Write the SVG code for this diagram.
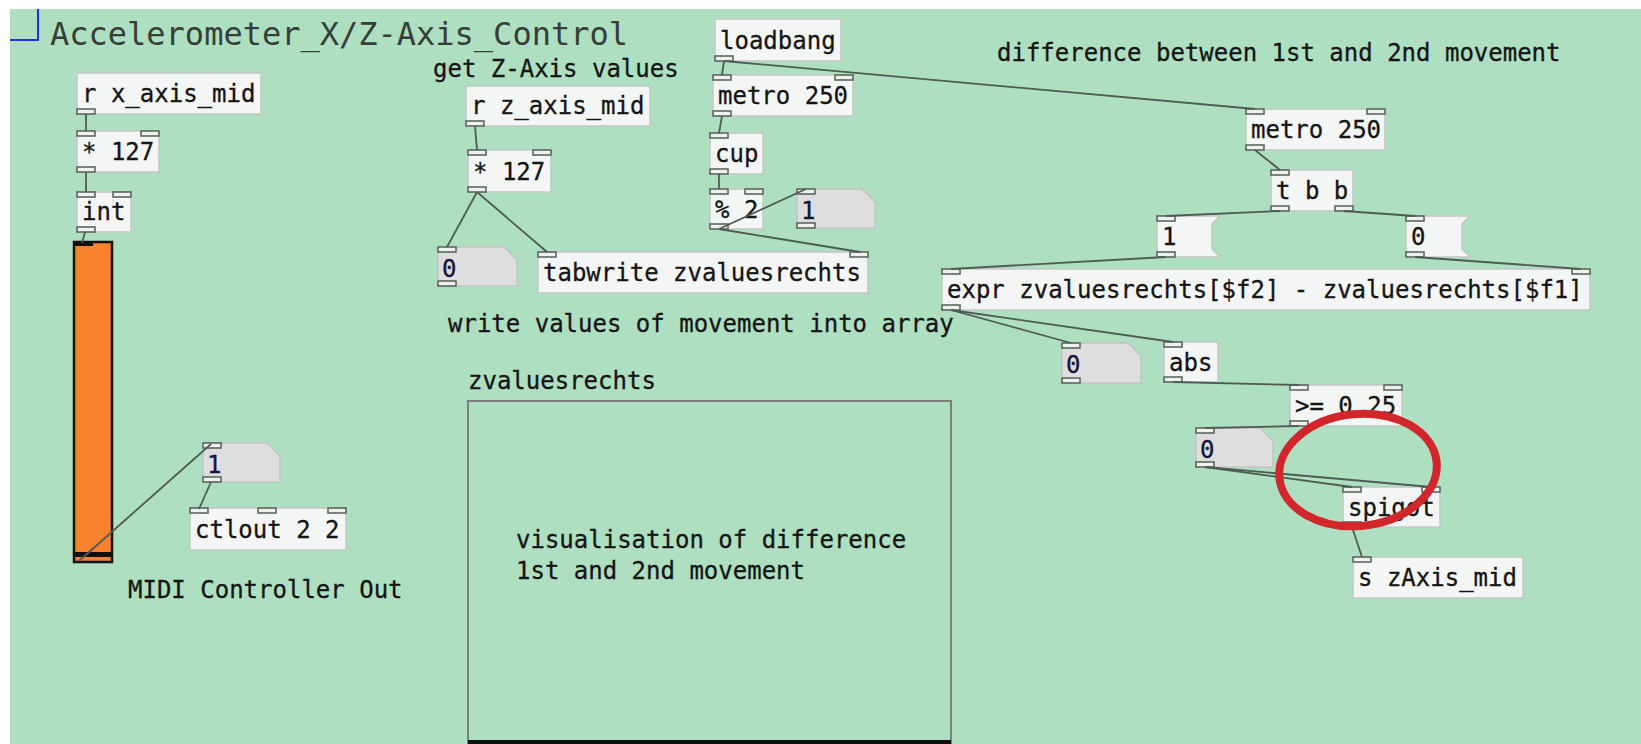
<svg xmlns="http://www.w3.org/2000/svg" width="1641" height="744" viewBox="0 0 1641 744">
  <style>
    .bg { fill: #ADDFC0; }
    .box { fill: #F4F6F6; stroke: #C3C7C4; stroke-width: 1.5; }
    .num { fill: #DEDEDE; stroke: #C3C5C3; stroke-width: 1.5; }
    .io { fill: #EEF1EE; stroke: #5B685E; stroke-width: 1.6; }
    .t { font-family: "DejaVu Sans Mono", "Liberation Mono", monospace; font-size: 24px; fill: #151515; stroke: #151515; stroke-width: 0.3; }
    .n { font-family: "DejaVu Sans Mono", "Liberation Mono", monospace; font-size: 24px; fill: #15153A; stroke: #15153A; stroke-width: 0.3; }
    .title { font-family: "DejaVu Sans Mono", "Liberation Mono", monospace; font-size: 32px; fill: #363E39; }
    .wire { stroke: #4E5C53; stroke-width: 1.8; fill: none; }
  </style>

  <!-- canvas -->
  <rect x="0" y="0" width="1641" height="744" fill="#FFFFFF"/>
  <rect class="bg" x="10" y="9" width="1631" height="735"/>
  <path d="M10 40 H38 V9" fill="none" stroke="#2B2BEE" stroke-width="2"/>
  <text class="title" x="50" y="45">Accelerometer_X/Z-Axis_Control</text>

  <!-- X axis chain -->
  <g id="r-x-axis-mid">
    <rect class="box" x="77" y="73" width="184" height="41"/>
    <text class="t" x="82" y="102">r x_axis_mid</text>
    <rect class="io" x="77" y="109" width="18" height="5"/>
  </g>
  <g id="mul-127-x">
    <rect class="box" x="77" y="131" width="82" height="41"/>
    <text class="t" x="82" y="160">* 127</text>
    <rect class="io" x="77" y="131" width="18" height="5"/>
    <rect class="io" x="141" y="131" width="18" height="5"/>
    <rect class="io" x="77" y="167" width="18" height="5"/>
  </g>
  <g id="int">
    <rect class="box" x="77" y="192" width="54" height="40"/>
    <text class="t" x="82" y="220">int</text>
    <rect class="io" x="77" y="192" width="18" height="5"/>
    <rect class="io" x="113" y="192" width="18" height="5"/>
    <rect class="io" x="77" y="227" width="18" height="5"/>
  </g>
  <g id="vslider">
    <rect x="74" y="242" width="38" height="320" fill="#F9822E" stroke="#111" stroke-width="2.5"/>
    <rect x="75" y="242" width="18" height="4" fill="#111"/>
    <rect x="74" y="552" width="38" height="5" fill="#111"/>
  </g>
  <g id="num-x">
    <path class="num" d="M203 443 H267 L280 456 V482 H203 Z"/>
    <text class="n" x="207" y="473">1</text>
    <rect class="io" x="203" y="443" width="18" height="5"/>
    <rect class="io" x="203" y="477" width="18" height="5"/>
  </g>
  <g id="ctlout">
    <rect class="box" x="190" y="508" width="156" height="42"/>
    <text class="t" x="195" y="538">ctlout 2 2</text>
    <rect class="io" x="190" y="508" width="18" height="5"/>
    <rect class="io" x="258" y="508" width="18" height="5"/>
    <rect class="io" x="328" y="508" width="18" height="5"/>
  </g>
  <g id="comment-midi">
    <text class="t" x="128" y="598">MIDI Controller Out</text>
  </g>

  <!-- Z axis recording -->
  <g id="comment-get-z">
    <text class="t" x="433" y="77">get Z-Axis values</text>
  </g>
  <g id="r-z-axis-mid">
    <rect class="box" x="466" y="86" width="184" height="40"/>
    <text class="t" x="471" y="114">r z_axis_mid</text>
    <rect class="io" x="466" y="121" width="18" height="5"/>
  </g>
  <g id="mul-127-z">
    <rect class="box" x="468" y="150" width="83" height="42"/>
    <text class="t" x="473" y="180">* 127</text>
    <rect class="io" x="468" y="150" width="18" height="5"/>
    <rect class="io" x="533" y="150" width="18" height="5"/>
    <rect class="io" x="468" y="187" width="18" height="5"/>
  </g>
  <g id="num-z">
    <path class="num" d="M438 247 H504 L517 260 V286 H438 Z"/>
    <text class="n" x="442" y="277">0</text>
    <rect class="io" x="438" y="247" width="18" height="5"/>
    <rect class="io" x="438" y="281" width="18" height="5"/>
  </g>
  <g id="tabwrite">
    <rect class="box" x="538" y="252" width="330" height="41"/>
    <text class="t" x="543" y="281">tabwrite zvaluesrechts</text>
    <rect class="io" x="538" y="252" width="18" height="5"/>
    <rect class="io" x="850" y="252" width="18" height="5"/>
  </g>
  <g id="loadbang">
    <rect class="box" x="715" y="19" width="126" height="42"/>
    <text class="t" x="720" y="49">loadbang</text>
    <rect class="io" x="715" y="56" width="18" height="5"/>
  </g>
  <g id="metro-a">
    <rect class="box" x="713" y="75" width="140" height="41"/>
    <text class="t" x="718" y="104">metro 250</text>
    <rect class="io" x="713" y="75" width="18" height="5"/>
    <rect class="io" x="835" y="75" width="18" height="5"/>
    <rect class="io" x="713" y="111" width="18" height="5"/>
  </g>
  <g id="cup">
    <rect class="box" x="710" y="133" width="53" height="41"/>
    <text class="t" x="715" y="162">cup</text>
    <rect class="io" x="710" y="133" width="18" height="5"/>
    <rect class="io" x="710" y="169" width="18" height="5"/>
  </g>
  <g id="mod-2">
    <rect class="box" x="710" y="189" width="53" height="40"/>
    <text class="t" x="715" y="218">% 2</text>
    <rect class="io" x="710" y="189" width="18" height="5"/>
    <rect class="io" x="745" y="189" width="18" height="5"/>
    <rect class="io" x="710" y="224" width="18" height="5"/>
  </g>
  <g id="num-index">
    <path class="num" d="M797 189 H862 L875 202 V228 H797 Z"/>
    <text class="n" x="801" y="219">1</text>
    <rect class="io" x="797" y="189" width="18" height="5"/>
    <rect class="io" x="797" y="223" width="18" height="5"/>
  </g>
  <g id="comment-write">
    <text class="t" x="448" y="332">write values of movement into array</text>
  </g>

  <!-- array -->
  <g id="array-zvaluesrechts">
    <text class="t" x="468" y="389">zvaluesrechts</text>
    <rect x="468" y="401" width="483" height="350" fill="none" stroke="#7C7F7D" stroke-width="2"/>
    <rect x="468" y="740" width="483" height="4" fill="#111"/>
    <text class="t" x="516" y="548">visualisation of difference</text>
    <text class="t" x="516" y="579">1st and 2nd movement</text>
  </g>

  <!-- difference detection -->
  <g id="comment-difference">
    <text class="t" x="997" y="61">difference between 1st and 2nd movement</text>
  </g>
  <g id="metro-b">
    <rect class="box" x="1246" y="109" width="139" height="41"/>
    <text class="t" x="1251" y="138">metro 250</text>
    <rect class="io" x="1246" y="109" width="18" height="5"/>
    <rect class="io" x="1367" y="109" width="18" height="5"/>
    <rect class="io" x="1246" y="145" width="18" height="5"/>
  </g>
  <g id="trigger">
    <rect class="box" x="1271" y="170" width="82" height="41"/>
    <text class="t" x="1276" y="199">t b b</text>
    <rect class="io" x="1271" y="170" width="18" height="5"/>
    <rect class="io" x="1271" y="206" width="18" height="5"/>
    <rect class="io" x="1335" y="206" width="18" height="5"/>
  </g>
  <g id="msg-1">
    <path class="box" d="M1157 216 H1220 L1212 224 V249 L1220 257 H1157 Z"/>
    <text class="t" x="1162" y="245">1</text>
    <rect class="io" x="1157" y="216" width="18" height="5"/>
    <rect class="io" x="1157" y="252" width="18" height="5"/>
  </g>
  <g id="msg-0">
    <path class="box" d="M1406 216 H1470 L1462 224 V249 L1470 257 H1406 Z"/>
    <text class="t" x="1411" y="245">0</text>
    <rect class="io" x="1406" y="216" width="18" height="5"/>
    <rect class="io" x="1406" y="252" width="18" height="5"/>
  </g>
  <g id="expr">
    <rect class="box" x="942" y="269" width="648" height="41"/>
    <text class="t" x="947" y="298">expr zvaluesrechts[$f2] - zvaluesrechts[$f1]</text>
    <rect class="io" x="942" y="269" width="18" height="5"/>
    <rect class="io" x="1572" y="269" width="18" height="5"/>
    <rect class="io" x="942" y="305" width="18" height="5"/>
  </g>
  <g id="num-diff">
    <path class="num" d="M1062 343 H1128 L1141 356 V383 H1062 Z"/>
    <text class="n" x="1066" y="373">0</text>
    <rect class="io" x="1062" y="343" width="18" height="5"/>
    <rect class="io" x="1062" y="378" width="18" height="5"/>
  </g>
  <g id="abs">
    <rect class="box" x="1164" y="342" width="54" height="40"/>
    <text class="t" x="1169" y="371">abs</text>
    <rect class="io" x="1164" y="342" width="18" height="5"/>
    <rect class="io" x="1164" y="377" width="18" height="5"/>
  </g>
  <g id="gte">
    <rect class="box" x="1290" y="385" width="112" height="41"/>
    <text class="t" x="1295" y="414">&gt;= 0.25</text>
    <rect class="io" x="1290" y="385" width="18" height="5"/>
    <rect class="io" x="1384" y="385" width="18" height="5"/>
    <rect class="io" x="1290" y="421" width="18" height="5"/>
  </g>
  <g id="num-gate">
    <path class="num" d="M1196 428 H1260 L1273 441 V467 H1196 Z"/>
    <text class="n" x="1200" y="458">0</text>
    <rect class="io" x="1196" y="428" width="18" height="5"/>
    <rect class="io" x="1196" y="462" width="18" height="5"/>
  </g>
  <g id="spigot">
    <rect class="box" x="1343" y="487" width="97" height="40"/>
    <text class="t" x="1348" y="516">spigot</text>
    <rect class="io" x="1343" y="487" width="18" height="5"/>
    <rect class="io" x="1422" y="487" width="18" height="5"/>
    <rect class="io" x="1343" y="522" width="18" height="5"/>
  </g>
  <g id="send-zaxis">
    <rect class="box" x="1353" y="557" width="170" height="41"/>
    <text class="t" x="1358" y="586">s zAxis_mid</text>
    <rect class="io" x="1353" y="557" width="18" height="5"/>
  </g>

  <!-- connectors, drawn over the boxes -->
  <g id="connections">
    <line class="wire" x1="86" y1="114" x2="86" y2="131"/>
    <line class="wire" x1="86" y1="172" x2="86" y2="192"/>
    <line class="wire" x1="85" y1="232" x2="82" y2="243"/>
    <line class="wire" x1="79" y1="561" x2="211" y2="444"/>
    <line class="wire" x1="211" y1="482" x2="199" y2="509"/>
    <line class="wire" x1="475" y1="126" x2="477" y2="150"/>
    <line class="wire" x1="477" y1="192" x2="447" y2="247"/>
    <line class="wire" x1="477" y1="192" x2="547" y2="252"/>
    <line class="wire" x1="724" y1="61" x2="722" y2="75"/>
    <line class="wire" x1="724" y1="61" x2="1255" y2="109"/>
    <line class="wire" x1="722" y1="116" x2="719" y2="133"/>
    <line class="wire" x1="719" y1="174" x2="719" y2="189"/>
    <line class="wire" x1="719" y1="229" x2="806" y2="189"/>
    <line class="wire" x1="719" y1="229" x2="860" y2="252"/>
    <line class="wire" x1="1255" y1="150" x2="1280" y2="170"/>
    <line class="wire" x1="1280" y1="211" x2="1166" y2="216"/>
    <line class="wire" x1="1344" y1="211" x2="1415" y2="216"/>
    <line class="wire" x1="1166" y1="257" x2="951" y2="269"/>
    <line class="wire" x1="1415" y1="257" x2="1581" y2="269"/>
    <line class="wire" x1="951" y1="310" x2="1071" y2="343"/>
    <line class="wire" x1="951" y1="310" x2="1173" y2="342"/>
    <line class="wire" x1="1173" y1="382" x2="1299" y2="385"/>
    <line class="wire" x1="1299" y1="426" x2="1205" y2="428"/>
    <line class="wire" x1="1205" y1="467" x2="1352" y2="487"/>
    <line class="wire" x1="1205" y1="467" x2="1431" y2="487"/>
    <line class="wire" x1="1352" y1="527" x2="1362" y2="557"/>
  </g>

  <!-- highlight -->
  <ellipse cx="1358" cy="470" rx="79" ry="56" fill="none" stroke="#D0262C" stroke-width="8" transform="rotate(-6 1358 470)"/>
</svg>
